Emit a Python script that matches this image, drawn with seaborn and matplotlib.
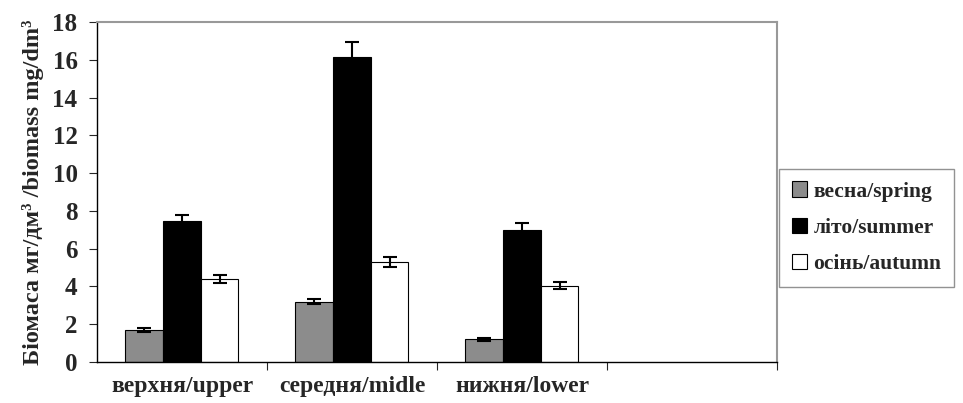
import matplotlib
matplotlib.use("Agg")
import matplotlib.pyplot as plt
import seaborn as sns
import pandas as pd
import numpy as np

zones = ["верхня/upper", "середня/midle", "нижня/lower"]
seasons = ["весна/spring", "літо/summer", "осінь/autumn"]
spring = [1.7, 3.2, 1.2]
summer = [7.45, 16.15, 7.0]
autumn = [4.4, 5.3, 4.05]
spring_err = [0.1, 0.15, 0.07]
summer_err = [0.35, 0.8, 0.35]
autumn_err = [0.2, 0.25, 0.2]

colors = ["#8c8c8c", "#000000", "#ffffff"]

rows = []
for season, vals in zip(seasons, [spring, summer, autumn]):
    for zone, v in zip(zones, vals):
        rows.append({"zone": zone, "season": season, "value": v})
df = pd.DataFrame(rows)
errs = {s: e for s, e in zip(seasons, [spring_err, summer_err, autumn_err])}

sns.set_style("white")
plt.rcParams["font.family"] = ["Liberation Serif", "DejaVu Serif"]
plt.rcParams["font.weight"] = "bold"

fig = plt.figure(figsize=(9.63, 4.03), dpi=100)
ax = fig.add_axes([0.1007, 0.1017, 0.7061, 0.8436])

sns.barplot(data=df, x="zone", y="value", hue="season", order=zones,
            hue_order=seasons, palette=colors, width=0.665, errorbar=None,
            edgecolor="black", linewidth=0.8, saturation=1, ax=ax)

# error bars at bar tops
for container, season in zip(ax.containers, seasons):
    xs = [p.get_x() + p.get_width() / 2 for p in container]
    ys = [p.get_height() for p in container]
    ax.errorbar(xs, ys, yerr=errs[season], fmt="none", ecolor="black",
                elinewidth=1.5, capsize=5, capthick=1.5, zorder=5)

ax.set_xlim(-0.5, 3.5)
ax.set_ylim(0, 18)
ax.set_yticks(np.arange(0, 19, 2))
ax.tick_params(axis="y", direction="out", length=6, width=0.8, left=True,
               labelsize=18, pad=8)
ax.set_xticks(range(len(zones)))
ax.set_xticklabels(zones, fontsize=17, fontweight="bold")
ax.set_xticks([0.5, 1.5, 2.5, 3.5], minor=True)
ax.tick_params(axis="x", which="major", length=0, pad=10)
ax.tick_params(axis="x", which="minor", direction="out", length=6, width=0.8,
               bottom=True)
for lab in ax.get_yticklabels():
    lab.set_fontweight("bold")

ax.set_xlabel("")
ax.set_ylabel("Біомаса мг/дм³ /biomass mg/dm³", fontsize=17.5,
              fontweight="bold", labelpad=6)

for side in ["left", "bottom"]:
    ax.spines[side].set_color("black")
    ax.spines[side].set_linewidth(1.0)
for side in ["top", "right"]:
    ax.spines[side].set_color("#999999")
    ax.spines[side].set_linewidth(1.5)

leg = ax.legend(loc="center left", bbox_to_anchor=(1.003, 0.395),
                borderaxespad=0, frameon=True, fancybox=False,
                handlelength=0.7, handleheight=0.7, handletextpad=0.3,
                labelspacing=0.75, borderpad=0.6,
                prop={"weight": "bold", "size": 15.5})
leg.get_frame().set_edgecolor("#777777")
leg.get_frame().set_linewidth(1.0)

fig.savefig("out.png", dpi=100)
